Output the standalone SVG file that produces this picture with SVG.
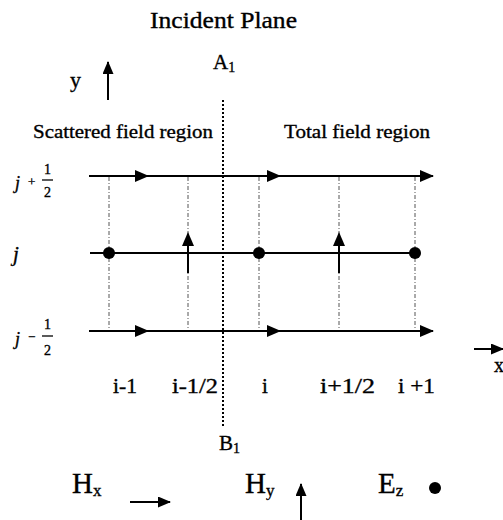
<svg xmlns="http://www.w3.org/2000/svg" width="503" height="520" viewBox="0 0 503 520">
<style>
text{font-family:"Liberation Serif","Times New Roman",serif;fill:#000;stroke:#000;stroke-width:0.35}
.ln{stroke:#000;stroke-width:2;fill:none}
.grid{stroke:#555;stroke-width:1;stroke-dasharray:4 2 1 2;fill:none}
.plane{stroke:#000;stroke-width:2;stroke-dasharray:2 2;fill:none}
.sub{font-size:14px}
.il{font-size:21px}
</style>
<defs>
<marker id="head" markerWidth="13" markerHeight="11" refX="12" refY="5.5" orient="auto" markerUnits="userSpaceOnUse">
<path d="M0,0 L13,5.5 L0,11 Z" fill="#000"/>
</marker>
</defs>
<rect width="503" height="520" fill="#fff"/>
<text x="150" y="28" textLength="147" lengthAdjust="spacingAndGlyphs" style="font-size:23px">Incident Plane</text>
<g id="axis-y">
<text x="70" y="87" style="font-size:22px">y</text>
<line class="ln" x1="108" y1="100" x2="108" y2="62" marker-end="url(#head)"/>
</g>
<g id="axis-x">
<line class="ln" x1="474" y1="349" x2="503" y2="349" marker-end="url(#head)"/>
<text x="494" y="372" style="font-size:20px">x</text>
</g>
<g id="plane">
<line class="plane" x1="223" y1="100" x2="223" y2="426"/>
<text x="213" y="69" style="font-size:21px">A<tspan dy="3" class="sub">1</tspan></text>
<text x="219" y="450" style="font-size:21px">B<tspan dy="3" class="sub">1</tspan></text>
</g>
<text x="33" y="138" textLength="180" lengthAdjust="spacingAndGlyphs" style="font-size:19px">Scattered field region</text>
<text x="284" y="138" textLength="146" lengthAdjust="spacingAndGlyphs" style="font-size:19px">Total field region</text>
<g id="connectors">
<line class="grid" x1="109" y1="177" x2="109" y2="331"/>
<line class="grid" x1="188" y1="177" x2="188" y2="331"/>
<line class="grid" x1="259" y1="177" x2="259" y2="331"/>
<line class="grid" x1="339" y1="177" x2="339" y2="331"/>
<line class="grid" x1="415" y1="177" x2="415" y2="331"/>
</g>
<g id="row-top">
<line class="ln" x1="89" y1="176" x2="433" y2="176"/>
<path d="M135,170 L149,176 L135,182 Z"/>
<path d="M267,170 L281,176 L267,182 Z"/>
<path d="M420,170 L434,176 L420,182 Z"/>
</g>
<g id="row-mid">
<line class="ln" x1="90" y1="253" x2="415" y2="253"/>
<circle cx="109" cy="253" r="6"/>
<circle cx="259" cy="253" r="6"/>
<circle cx="415" cy="253" r="6"/>
<line class="ln" x1="188" y1="273" x2="188" y2="242"/>
<path d="M182,246 L188,232 L194,246 Z"/>
<line class="ln" x1="339" y1="273" x2="339" y2="242"/>
<path d="M333,246 L339,232 L345,246 Z"/>
</g>
<g id="row-bot">
<line class="ln" x1="89" y1="331" x2="433" y2="331"/>
<path d="M135,325 L149,331 L135,337 Z"/>
<path d="M267,325 L281,331 L267,337 Z"/>
<path d="M420,325 L434,331 L420,337 Z"/>
</g>
<g id="j-labels">
<text x="15" y="189" style="font-style:italic;font-size:18px">j</text>
<text x="28" y="186" style="font-size:13px">+</text>
<text x="44" y="174" style="font-size:14px">1</text>
<line x1="42" y1="180" x2="53" y2="180" stroke="#000" stroke-width="1.3"/>
<text x="44" y="197" style="font-size:14px">2</text>
<text x="13" y="261" style="font-style:italic;font-size:21px">j</text>
<text x="15" y="345" style="font-style:italic;font-size:18px">j</text>
<text x="28" y="341" style="font-size:13px">−</text>
<text x="44" y="329" style="font-size:14px">1</text>
<line x1="42" y1="336" x2="53" y2="336" stroke="#000" stroke-width="1.3"/>
<text x="44" y="355" style="font-size:14px">2</text>
</g>
<g id="i-labels">
<text x="113" y="393" textLength="24" lengthAdjust="spacingAndGlyphs" class="il">i-1</text>
<text x="172" y="393" textLength="46" lengthAdjust="spacingAndGlyphs" class="il">i-1/2</text>
<text x="262" y="393" class="il">i</text>
<text x="320" y="393" textLength="55" lengthAdjust="spacingAndGlyphs" class="il">i+1/2</text>
<text x="398" y="393" textLength="37" lengthAdjust="spacingAndGlyphs" class="il">i +1</text>
</g>
<g id="legend-hx">
<text x="72" y="493" style="font-size:29px">H<tspan dy="3" style="font-size:17px">x</tspan></text>
<line class="ln" x1="130" y1="502" x2="170" y2="502" marker-end="url(#head)"/>
</g>
<g id="legend-hy">
<text x="245" y="493" style="font-size:29px">H<tspan dy="3" style="font-size:17px">y</tspan></text>
<line class="ln" x1="301" y1="520" x2="301" y2="484" marker-end="url(#head)"/>
</g>
<g id="legend-ez">
<text x="378" y="493" style="font-size:29px">E<tspan dy="3" style="font-size:17px">z</tspan></text>
<circle cx="435" cy="488" r="6"/>
</g>
</svg>
